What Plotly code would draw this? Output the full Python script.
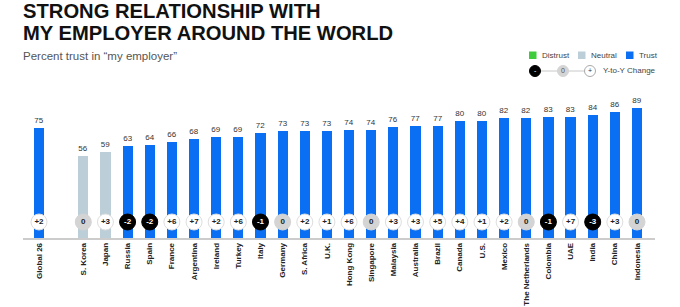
import plotly.graph_objects as go

countries = ["Global 26", "S. Korea", "Japan", "Russia", "Spain", "France", "Argentina",
             "Ireland", "Turkey", "Italy", "Germany", "S. Africa", "U.K.", "Hong Kong",
             "Singapore", "Malaysia", "Australia", "Brazil", "Canada", "U.S.", "Mexico",
             "The Netherlands", "Colombia", "UAE", "India", "China", "Indonesia"]
trust = [75, 56, 59, 63, 64, 66, 68, 69, 69, 72, 73, 73, 73, 74, 74, 76, 77, 77,
         80, 80, 82, 82, 83, 83, 84, 86, 89]
change = [2, 0, 3, -2, -2, 6, 7, 2, 6, -1, 0, 2, 1, 6, 0, 3, 3, 5, 4, 1, 2, 0,
          -1, 7, -3, 3, 0]
level = ["trust", "neutral", "neutral"] + ["trust"] * 24

BLUE = "#0a6ff2"
NEUTRAL = "#bccfd8"
GREEN = "#3ccc3c"
FONT = "Liberation Sans, Arial, sans-serif"

# slot positions: Global 26 separated from the countries by one empty slot
xpos = [0] + list(range(2, 2 + len(countries) - 1))

# pixel geometry
L, R, T, B = 23, 25, 90, 69
W, H = 680, 307
pw = W - L - R
ph = H - T - B
px_per_unit = 130 / 89.0
ymax = ph / px_per_unit
slot = (637 - 39) / 27.0
xmin = -(39 - L) / slot
xmax = 27 + (655 - 637) / slot
bubble_y = 16 / px_per_unit

def pxx(px):
    return (px - L) / pw

def pxy(py):
    return (H - B - py) / ph

bar_colors = [NEUTRAL if lv == "neutral" else BLUE for lv in level]

fig = go.Figure()
fig.add_trace(go.Bar(
    x=xpos, y=trust, width=0.46, marker=dict(color=bar_colors, line=dict(width=0)),
    text=[str(v) for v in trust], textposition="outside",
    textfont=dict(size=8, color="#333333", family=FONT),
    cliponaxis=False, hoverinfo="skip", showlegend=False))

def fmt(c):
    return "+%d" % c if c > 0 else str(c)

fill = ["#000000" if c < 0 else ("#d4d4d4" if c == 0 else "#ffffff") for c in change]
edge = ["#000000" if c < 0 else ("#d4d4d4" if c == 0 else "#dedede") for c in change]
tcol = ["#ffffff" if c < 0 else "#222222" for c in change]

fig.add_trace(go.Scatter(
    x=xpos, y=[bubble_y] * len(xpos), mode="markers+text",
    marker=dict(size=16, color=fill, line=dict(color=edge, width=1)),
    text=["<b>%s</b>" % fmt(c) for c in change], textposition="middle center",
    textfont=dict(size=8, color=tcol, family=FONT),
    cliponaxis=False, hoverinfo="skip", showlegend=False))

shapes = []
annotations = []

# title and subtitle
for line, cy in [("STRONG RELATIONSHIP WITH", 11.5), ("MY EMPLOYER AROUND THE WORLD", 33)]:
    annotations.append(dict(
        xref="paper", yref="paper", x=pxx(21), y=pxy(cy), xanchor="left", yanchor="middle",
        text="<b>%s</b>" % line, showarrow=False, align="left",
        font=dict(size=20.2, color="#111111", family=FONT)))
annotations.append(dict(
    xref="paper", yref="paper", x=pxx(21), y=pxy(55.5), xanchor="left", yanchor="middle",
    text="Percent trust in \u201cmy employer\u201d", showarrow=False,
    font=dict(size=11.5, color="#555555", family=FONT)))

# legend row 1
legend_items = [("Distrust", GREEN, 529), ("Neutral", NEUTRAL, 578), ("Trust", BLUE, 626)]
for name, col, x0 in legend_items:
    shapes.append(dict(type="rect", xref="paper", yref="paper",
                       x0=pxx(x0), x1=pxx(x0 + 7.5), y0=pxy(51.5), y1=pxy(59),
                       fillcolor=col, line=dict(width=0)))
    annotations.append(dict(xref="paper", yref="paper", x=pxx(x0 + 10.5), y=pxy(55),
                            xanchor="left", yanchor="middle", text=name, showarrow=False,
                            font=dict(size=8, color="#444444", family=FONT)))

# legend row 2
ly = pxy(71)
shapes.append(dict(type="line", xref="paper", yref="paper", x0=pxx(535), x1=pxx(590),
                   y0=ly, y1=ly, line=dict(color="#c8c8c8", width=1)))
r = 5.5
for cx, fc, lc in [(535, "#000000", "#000000"), (563, "#d4d4d4", "#d4d4d4"), (590, "#ffffff", "#aaaaaa")]:
    shapes.append(dict(type="circle", xref="paper", yref="paper",
                       x0=pxx(cx - r), x1=pxx(cx + r), y0=pxy(71 + r), y1=pxy(71 - r),
                       fillcolor=fc, line=dict(color=lc, width=1)))
for cx, t, c in [(535, "-", "#ffffff"), (563, "0", "#555555"), (590, "+", "#333333")]:
    annotations.append(dict(xref="paper", yref="paper", x=pxx(cx), y=pxy(70.5),
                            xanchor="center", yanchor="middle", text=t, showarrow=False,
                            font=dict(size=7, color=c, family=FONT)))
annotations.append(dict(xref="paper", yref="paper", x=pxx(601), y=pxy(70.5),
                        xanchor="left", yanchor="middle", text="Y-to-Y Change",
                        showarrow=False, font=dict(size=8, color="#444444", family=FONT)))

fig.update_layout(
    width=W, height=H, margin=dict(l=L, r=R, t=T, b=B, autoexpand=False),
    paper_bgcolor="white", plot_bgcolor="white",
    shapes=shapes, annotations=annotations, bargap=0,
    xaxis=dict(range=[xmin, xmax], tickmode="array", tickvals=xpos, ticktext=countries,
               tickangle=-90, showline=True, linecolor="#cccccc", linewidth=1.5,
               showgrid=False, zeroline=False, ticks="", fixedrange=True, automargin=False,
               tickfont=dict(size=8, color="#222222", family=FONT, weight="bold")),
    yaxis=dict(range=[0, ymax], visible=False, showgrid=False, zeroline=False,
               fixedrange=True, automargin=False),
)

fig.write_html("out.html")
